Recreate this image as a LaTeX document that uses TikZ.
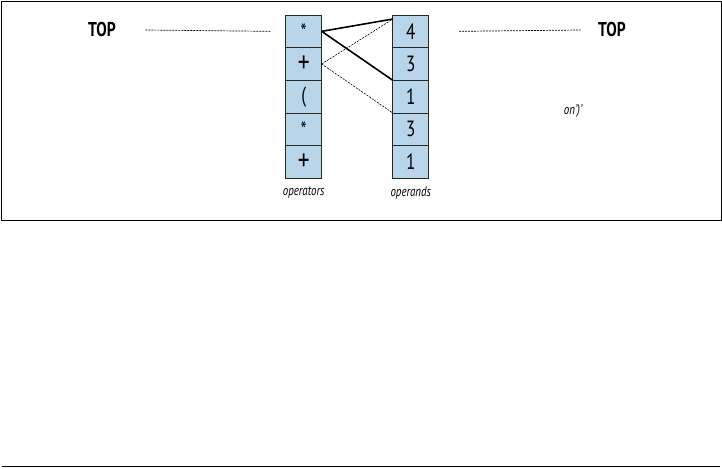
\documentclass[tikz,border=0pt]{standalone}
\usepackage{fontspec}
\setmainfont{PT Sans}[FakeStretch=0.78]
\usetikzlibrary{positioning}
\definecolor{celdaazul}{RGB}{185,213,234}
\newcommand{\estrella}{\raisebox{-0.3em}{*}}
\newcommand{\mas}{{\fontsize{30}{30}\selectfont\raisebox{-0.05em}{+}}}
\tikzset{
  celda/.style={draw=black!85, fill=celdaazul, line width=0.8pt,
    minimum width=36pt, minimum height=32.65pt, inner sep=0pt, outer sep=0pt,
    font=\fontsize{22}{22}\selectfont},
  etiqueta/.style={font=\fontsize{14}{14}\selectfont\itshape},
  tope/.style={font=\fontsize{20}{20}\selectfont\bfseries},
  enlace/.style={line width=1.6pt},
  enlacefino/.style={line width=0.6pt, dash pattern=on 2pt off 1.2pt},
  guia/.style={line width=0.7pt, dash pattern=on 2pt off 1pt}
}
\begin{document}
\begin{tikzpicture}[x=1pt,y=-1pt]
  \useasboundingbox (0,0) rectangle (722,468);
  % marco
  \draw[line width=1pt] (1.5,1.5) rectangle (721,220);
  \draw[line width=1pt] (2,466.5) -- (720,466.5);

  % pila de operadores
  \foreach \s [count=\i] in {{\estrella},{\mas},{(},{\estrella},{\mas}}
    \node[celda] (op\i) at (303.7,{31.35+(\i-1)*32.65}) {\s};
  \node[etiqueta] (lblop) at (303.7,193) {operators};

  % pila de operandos
  \foreach \s [count=\i] in {4,3,1,3,1}
    \node[celda] (od\i) at (410.8,{31.35+(\i-1)*32.65}) {\s};
  \node[etiqueta] (lblod) at (410.8,193) {operands};

  % topes
  \node[tope] (topL) at (102,30) {TOP};
  \node[tope] (topR) at (612,30) {TOP};
  \draw[guia] ([xshift=26pt]topL.east) -- ([xshift=-15pt]op1.west);
  \draw[guia] ([xshift=30pt]od1.east) -- ([xshift=-14pt]topR.west);

  \node[etiqueta] (nota) at (573,111) {on')'};

  % enlaces
  \coordinate (tope4) at ([yshift=-4pt]od1.north west);
  \draw[enlace] (op1.east) -- (tope4);
  \draw[enlace] (op1.east) -- (od2.south west);
  \draw[enlacefino] (op2.east) -- (tope4);
  \draw[enlacefino] (op2.east) -- (od3.south west);
\end{tikzpicture}
\end{document}
